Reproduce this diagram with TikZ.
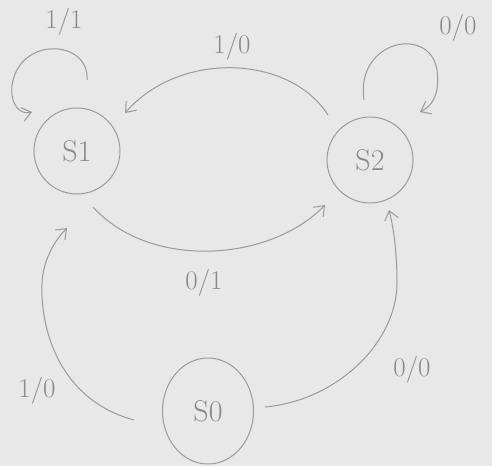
\documentclass[tikz,border=0pt]{standalone}
\usetikzlibrary{arrows.meta,shapes.geometric}
\definecolor{paper}{HTML}{E8E8E8}
\definecolor{pencil}{HTML}{9A9A9A}
\definecolor{ink}{HTML}{8A8A8A}
\begin{document}
\begin{tikzpicture}[x=1pt,y=-1pt,
  state/.style={draw=pencil,line width=1pt,circle,minimum size=86pt,inner sep=0pt,text=ink,font=\fontsize{30}{34}\selectfont},
  lbl/.style={text=ink,font=\fontsize{27}{30}\selectfont,inner sep=0pt},
  edge/.style={draw=pencil,line width=1pt,-{Straight Barb[length=9pt,width=14pt]}}]
\fill[paper] (0,0) rectangle (492,466);
\useasboundingbox (0,0) rectangle (492,466);
\node[state] (s1) at (77,151) {S1};
\node[state] (s2) at (370,160) {S2};
\node[state,ellipse,minimum width=91pt,minimum height=106pt] (s0) at (208,411) {S0};
% free ends
\coordinate (l1a) at (87,80);
\coordinate (l1b) at (32,112);
\coordinate (l2a) at (364,100);
\coordinate (l2b) at (420,112);
\coordinate (ta) at (328,115);
\coordinate (tb) at (125,113);
\coordinate (ba) at (93,207);
\coordinate (bb) at (325,205);
\coordinate (la) at (134,420);
\coordinate (lb) at (67,228);
\coordinate (ra) at (265,407);
\coordinate (rb) at (389,210);
% self loops
\draw[edge] (l1a) .. controls (90,40) and (20,35) .. (12,85) .. controls (10,105) and (20,115) .. (l1b);
\draw[edge] (l2a) .. controls (355,40) and (430,25) .. (437,70) .. controls (440,95) and (432,106) .. (l2b);
% arcs
\draw[edge] (ta) .. controls (290,55) and (180,50) .. (tb);
\draw[edge] (ba) .. controls (150,270) and (270,262) .. (bb);
\draw[edge] (la) .. controls (60,400) and (40,330) .. (42,283) .. controls (43,260) and (55,240) .. (lb);
\draw[edge] (ra) .. controls (340,400) and (397,340) .. (397,283) .. controls (397,250) and (393,225) .. (rb);
% labels
\node[lbl] (t11) at (64,22) {1/1};
\node[lbl] (t10a) at (232,47) {1/0};
\node[lbl] (t00a) at (458,28) {0/0};
\node[lbl] (t01) at (204,283) {0/1};
\node[lbl] (t10b) at (37,391) {1/0};
\node[lbl] (t00b) at (412,370) {0/0};
\end{tikzpicture}
\end{document}
